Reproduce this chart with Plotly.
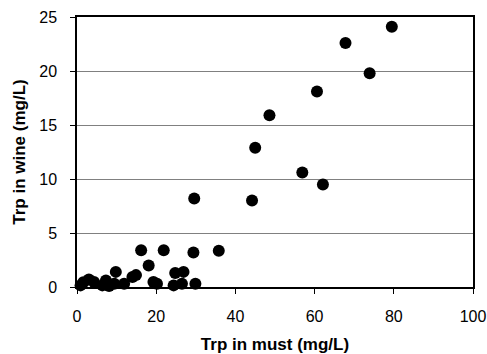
import plotly.graph_objects as go

# Trp in must (mg/L) vs Trp in wine (mg/L)
trp_must = [0.9, 1.6, 3.0, 4.3, 6.4, 7.3, 8.1, 9.4, 9.8, 11.9, 14.0, 14.9,
            16.2, 18.1, 19.3, 20.2, 21.9, 24.4, 24.8, 26.5, 26.9, 29.4, 29.9,
            29.6, 35.8, 44.2, 45.0, 48.6, 56.9, 60.6, 62.1, 67.8, 73.9, 79.5]
trp_wine = [0.15, 0.43, 0.7, 0.46, 0.15, 0.6, 0.1, 0.3, 1.4, 0.3, 0.93, 1.1,
            3.4, 2.0, 0.46, 0.3, 3.4, 0.15, 1.3, 0.3, 1.4, 3.2, 0.3,
            8.2, 3.35, 8.0, 12.9, 15.9, 10.6, 18.1, 9.5, 22.6, 19.8, 24.1]

x_ticks = [0, 20, 40, 60, 80, 100]
y_ticks = [0, 5, 10, 15, 20, 25]

fig = go.Figure(go.Scatter(
    x=trp_must, y=trp_wine, mode="markers",
    marker=dict(color="black", size=12, line=dict(width=0)),
    cliponaxis=False, showlegend=False,
))

font = dict(family="Liberation Sans, Arial, sans-serif", size=16, color="black")

fig.update_layout(
    width=487, height=354,
    margin=dict(l=77, r=14, t=17, b=67),
    paper_bgcolor="white", plot_bgcolor="white",
    font=font,
    xaxis=dict(
        range=[0, 100], tickvals=x_ticks, showgrid=False, zeroline=False,
        showline=True, linecolor="black", linewidth=1.5, mirror=True,
        ticks="outside", ticklen=5, tickcolor="black", ticklabelstandoff=9,
        automargin=False,
        title=dict(text="<b>Trp in must (mg/L)</b>", font=dict(size=17), standoff=14),
    ),
    yaxis=dict(
        range=[0, 25], tickvals=y_ticks, showgrid=True, gridcolor="#808080",
        gridwidth=1, zeroline=False,
        showline=True, linecolor="black", linewidth=1.5, mirror=True,
        ticks="outside", ticklen=5, tickcolor="black", ticklabelstandoff=10,
        automargin=False,
        title=dict(text="<b>Trp in wine (mg/L)</b>", font=dict(size=17), standoff=9),
    ),
)

fig.write_html("out.html")
